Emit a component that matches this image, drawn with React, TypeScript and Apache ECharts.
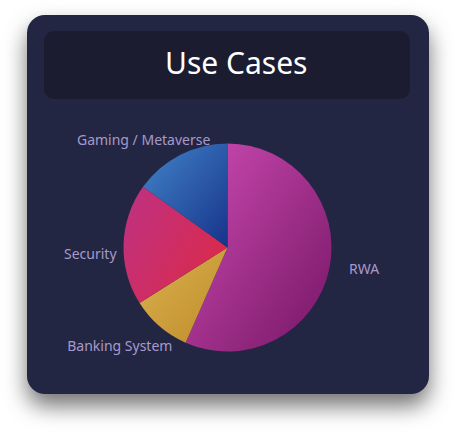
import React, { useEffect, useRef } from 'react';
import * as echarts from 'echarts';

const categories = ['RWA', 'Banking System', 'Security', 'Gaming / Metaverse'];
const values = [60, 10, 20, 16];
const gradients = [
  ['#cc4bb2', '#761665'],
  ['#d9b250', '#c08b2a'],
  ['#c0317f', '#dc2947'],
  ['#4284c9', '#17338a'],
];
const labelNudges = [[-1, -2.5], [31, 13], [14, 9], [47, -8]];

const App: React.FC = () => {
  const ref = useRef<HTMLDivElement>(null);

  useEffect(() => {
    if (!ref.current) return;
    const chart = echarts.init(ref.current, null, { renderer: 'svg' });

    const data = categories.map((name, i) => ({
      name,
      value: values[i],
      itemStyle: {
        color: {
          type: 'linear',
          x: 0, y: i === 2 ? 0.2 : 0, x2: 1, y2: i === 2 ? 0.8 : 1,
          colorStops: [
            { offset: 0, color: gradients[i][0] },
            { offset: 1, color: gradients[i][1] },
          ],
        },
      },
    }));

    chart.setOption({
      animation: false,
      graphic: [
        {
          type: 'rect', z: -10,
          shape: { x: 27, y: 15, width: 402, height: 379, r: 18 },
          style: { fill: '#222543', shadowBlur: 22, shadowOffsetY: 12, shadowColor: 'rgba(0,0,0,0.55)' },
        },
        {
          type: 'rect', z: -9,
          shape: { x: 44, y: 31, width: 366, height: 68, r: 10 },
          style: { fill: '#1c1c31' },
        },
      ],
      title: {
        text: 'Use Cases',
        left: 160,
        top: 42,
        textStyle: { color: '#ffffff', fontSize: 30, fontWeight: 'normal', fontFamily: 'Noto Sans' },
      },
      series: [{
        type: 'pie',
        center: [227.5, 247.5],
        radius: 104,
        data,
        label: {
          show: true,
          position: 'outside',
          color: '#a899cc',
          fontSize: 14,
          fontFamily: 'Noto Sans',
        },
        labelLine: { show: false, length: 8, length2: 8 },
        labelLayout: (p: any) => ({ dx: labelNudges[p.dataIndex][0], dy: labelNudges[p.dataIndex][1] }),
      }],
    });

    return () => { chart.dispose(); };
  }, []);

  return <div ref={ref} style={{ position: 'absolute', left: 0, top: 0, width: 455, height: 433 }} />;
};

export default App;
